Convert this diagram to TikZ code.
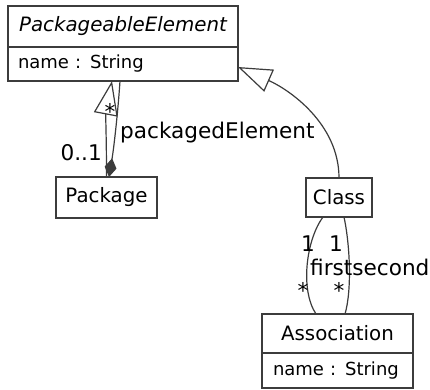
\documentclass[tikz,border=0pt]{standalone}
\usepackage{fontspec}
\setmainfont{DejaVu Sans}
\usetikzlibrary{arrows.meta,positioning}
\definecolor{umlgray}{HTML}{3C3C3C}
\tikzset{
	x=1pt, y=-1pt, semithick,
	umlclass/.style ={rectangle, draw=umlgray, line width=1.9pt, outer sep=0pt, inner sep=2pt, font=\fontsize{19.8}{23}\selectfont},
	umlattr/.style ={umlclass, align=left, font=\fontsize{18}{22}\selectfont},
	assoc/.style = {draw=umlgray, line width=1.2pt},
	gen/.style = {assoc, -{Triangle[open, length=34pt, width=24pt, fill=white]}},
	comp/.style = {assoc, {Diamond[length=19pt, width=12pt]}-},
	el/.style = {inner sep=0pt, font=\fontsize{21.6}{24}\selectfont}
}
\begin{document}
\begin{tikzpicture}
	\useasboundingbox (0,0) rectangle (430,389);
	
	% classes
	\node[umlclass, minimum width=230pt, minimum height=41pt] (pe) at (123,26.5) {\itshape PackageableElement};
	\node[umlattr, below=0pt of pe, text width=210pt, inner xsep=10pt, minimum height=34pt] (peattr) {name : String};
	\node[umlclass, minimum width=101pt, minimum height=41pt] (pkg) at (106.5,197.5) {Package};
	\node[umlclass, minimum width=66pt, minimum height=39pt] (cls) at (339,197.5) {Class};
	\node[umlclass, minimum width=151pt, minimum height=39pt] (asc) at (337.5,333.5) {Association};
	\node[umlattr, below=0pt of asc, text width=129pt, inner xsep=11pt, minimum height=35pt] (ascattr) {name : String};
	
	% generalizations
	\draw[gen] (pkg.north) .. controls +(0,-40) and +(-6.5,34.5) .. ([xshift=-11pt]peattr.south);
	\draw[gen] (cls.north) .. controls +(0,-55) and +(50,22) .. ([yshift=-3pt]peattr.east);
	
	% composition
	\draw[comp] ([xshift=2.5pt]pkg.north) .. controls +(5,-30) and +(-2,30) .. ([xshift=-3pt]peattr.south);
	\node[el, anchor=base] (star1) at (110,119) {*};
	\node[el, anchor=base west] (pelem) at (120,138) {packagedElement};
	\node[el, anchor=base east] (mult1) at (102,160) {0..1};
	
	% associations
	\draw[assoc] ([xshift=-16pt]cls.south) .. controls (306,240) and (300,290) .. ([xshift=-21.5pt]asc.north);
	\draw[assoc] ([xshift=5pt]cls.south) .. controls (350,245) and (352,290) .. ([xshift=7.5pt]asc.north);
	\node[el, anchor=base] (onea) at (308,251) {1};
	\node[el, anchor=base] (oneb) at (336,251) {1};
	\node[el, anchor=base west] (roles) at (310,275) {firstsecond};
	\node[el, anchor=base] (stara) at (303,298) {*};
	\node[el, anchor=base] (starb) at (339,298) {*};
\end{tikzpicture}
\end{document}
